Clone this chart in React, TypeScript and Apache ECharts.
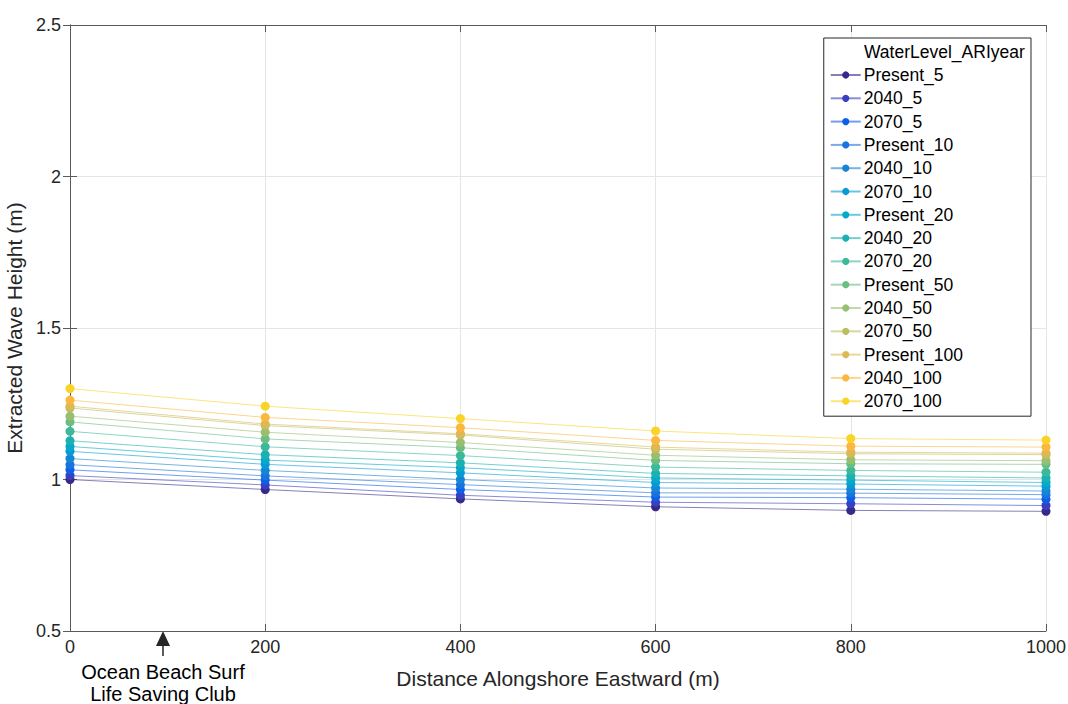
import React, { useEffect, useRef } from "react";
import * as echarts from "echarts";

const distances = [0, 200, 400, 600, 800, 1000];
const xTicks = [0, 200, 400, 600, 800, 1000];
const yTicks = [0.5, 1, 1.5, 2, 2.5];

const seriesNames = [
  "Present_5", "2040_5", "2070_5",
  "Present_10", "2040_10", "2070_10",
  "Present_20", "2040_20", "2070_20",
  "Present_50", "2040_50", "2070_50",
  "Present_100", "2040_100", "2070_100",
];

const present5 = [1.0, 0.967, 0.936, 0.91, 0.898, 0.895];
const y2040_5 = [1.013, 0.982, 0.948, 0.925, 0.92, 0.914];
const y2070_5 = [1.032, 0.998, 0.967, 0.942, 0.94, 0.935];
const present10 = [1.049, 1.012, 0.983, 0.956, 0.955, 0.95];
const y2040_10 = [1.069, 1.03, 1.0, 0.972, 0.968, 0.962];
const y2070_10 = [1.093, 1.05, 1.022, 0.99, 0.985, 0.978];
const present20 = [1.109, 1.064, 1.039, 1.005, 0.998, 0.99];
const y2040_20 = [1.128, 1.082, 1.055, 1.02, 1.012, 1.005];
const y2070_20 = [1.159, 1.108, 1.079, 1.041, 1.03, 1.024];
const present50 = [1.19, 1.134, 1.105, 1.063, 1.052, 1.05];
const y2040_50 = [1.209, 1.156, 1.122, 1.08, 1.065, 1.062];
const y2070_50 = [1.236, 1.178, 1.147, 1.1, 1.085, 1.082];
const present100 = [1.242, 1.183, 1.151, 1.107, 1.09, 1.087];
const y2040_100 = [1.262, 1.205, 1.171, 1.129, 1.11, 1.107];
const y2070_100 = [1.3, 1.242, 1.201, 1.16, 1.135, 1.13];

const seriesValues = [
  present5, y2040_5, y2070_5,
  present10, y2040_10, y2070_10,
  present20, y2040_20, y2070_20,
  present50, y2040_50, y2070_50,
  present100, y2040_100, y2070_100,
];

const colors = [
  "#352a87", "#3a3fbf", "#0d5fe8",
  "#1a72de", "#1585d5", "#069bd6",
  "#07a9c8", "#1bb1b3", "#3bb99b",
  "#6abd83", "#98be70", "#bcbd61",
  "#dcb955", "#fbb73f", "#f9d427",
];

const FONT = "Liberation Sans, Arial, sans-serif";

export default function App() {
  const ref = useRef<HTMLDivElement>(null);
  useEffect(() => {
    if (!ref.current) return;
    const chart = echarts.init(ref.current, undefined, { renderer: "svg" });
    const axisLineStyle = { color: "#5a5a5a", width: 1 };
    chart.setOption({
      animation: false,
      backgroundColor: "#ffffff",
      textStyle: { fontFamily: FONT },
      grid: { left: 70, right: 22, top: 25, bottom: 73, containLabel: false, outerBoundsMode: "none" },
      xAxis: [
        {
          type: "value",
          min: 0,
          max: 1000,
          interval: 200,
          name: "Distance Alongshore Eastward (m)",
          nameLocation: "middle",
          nameGap: 36.5,
          nameTextStyle: { fontSize: 21, color: "#262626", fontFamily: FONT },
          axisLine: { show: true, lineStyle: axisLineStyle },
          axisTick: { show: true, inside: true, length: 7, lineStyle: axisLineStyle },
          axisLabel: { fontSize: 18, color: "#262626", margin: 7, fontFamily: FONT,
            formatter: (v: number) => (xTicks.includes(v) ? String(v) : "") },
          splitLine: { show: true, lineStyle: { color: "#e5e5e5", width: 1 } },
        },
        {
          type: "value",
          position: "top",
          min: 0,
          max: 1000,
          interval: 200,
          axisLine: { show: true, lineStyle: axisLineStyle },
          axisTick: { show: true, inside: true, length: 7, lineStyle: axisLineStyle },
          axisLabel: { show: false },
          splitLine: { show: false },
        },
      ],
      yAxis: [
        {
          type: "value",
          min: 0.5,
          max: 2.5,
          interval: 0.5,
          name: "Extracted Wave Height (m)",
          nameLocation: "middle",
          nameGap: 36,
          nameTextStyle: { fontSize: 21, color: "#262626", fontFamily: FONT },
          axisLine: { show: true, lineStyle: axisLineStyle },
          axisTick: { show: true, inside: true, length: 7, lineStyle: axisLineStyle },
          axisLabel: { fontSize: 18, color: "#262626", margin: 9, fontFamily: FONT,
            formatter: (v: number) => (yTicks.some((t) => Math.abs(t - v) < 1e-9) ? String(v) : "") },
          splitLine: { show: true, lineStyle: { color: "#e5e5e5", width: 1 } },
        },
        {
          type: "value",
          position: "right",
          min: 0.5,
          max: 2.5,
          interval: 0.5,
          axisLine: { show: true, lineStyle: axisLineStyle },
          axisTick: { show: true, inside: true, length: 7, lineStyle: axisLineStyle },
          axisLabel: { show: false },
          splitLine: { show: false },
        },
      ],
      legend: {
        orient: "vertical",
        right: 37,
        top: 38,
        padding: [28, 68, 6, 6],
        backgroundColor: "#ffffff",
        borderColor: "#262626",
        borderWidth: 1,
        borderRadius: 0,
        itemWidth: 30,
        itemHeight: 9,
        itemGap: 5.3,
        textStyle: { fontSize: 17.5, color: "#000", fontFamily: FONT, lineHeight: 18, padding: [0, 0, 0, -2] },
        data: seriesNames,
      },
      graphic: [
        {
          type: "text",
          left: 864,
          top: 43,
          z: 100,
          style: { text: "WaterLevel_ARIyear", fill: "#000", font: "17.5px " + FONT },
        },
        {
          type: "polygon",
          shape: { points: [[163, 631], [156, 646], [170, 646]] },
          style: { fill: "#262626" },
        },
        {
          type: "line",
          shape: { x1: 163, y1: 645, x2: 163, y2: 656 },
          style: { stroke: "#262626", lineWidth: 1.5 },
        },
        {
          type: "text",
          x: 163,
          y: 672,
          style: { text: "Ocean Beach Surf", font: "20px " + FONT, fill: "#000", align: "center", verticalAlign: "middle" },
        },
        {
          type: "text",
          x: 163,
          y: 694,
          style: { text: "Life Saving Club", font: "20px " + FONT, fill: "#000", align: "center", verticalAlign: "middle" },
        },
      ],
      series: seriesNames.map((name, i) => ({
        name,
        type: "line",
        xAxisIndex: 0,
        yAxisIndex: 0,
        data: distances.map((d, j) => [d, seriesValues[i][j]]),
        symbol: "circle",
        symbolSize: 9,
        itemStyle: { color: colors[i] },
        lineStyle: { color: colors[i], width: 1, opacity: 0.6 },
        z: 2 + i,
      })),
    });
    return () => chart.dispose();
  }, []);
  return (
    <div
      ref={ref}
      style={{ position: "fixed", left: 0, top: 0, width: 1068, height: 704 }}
    />
  );
}
